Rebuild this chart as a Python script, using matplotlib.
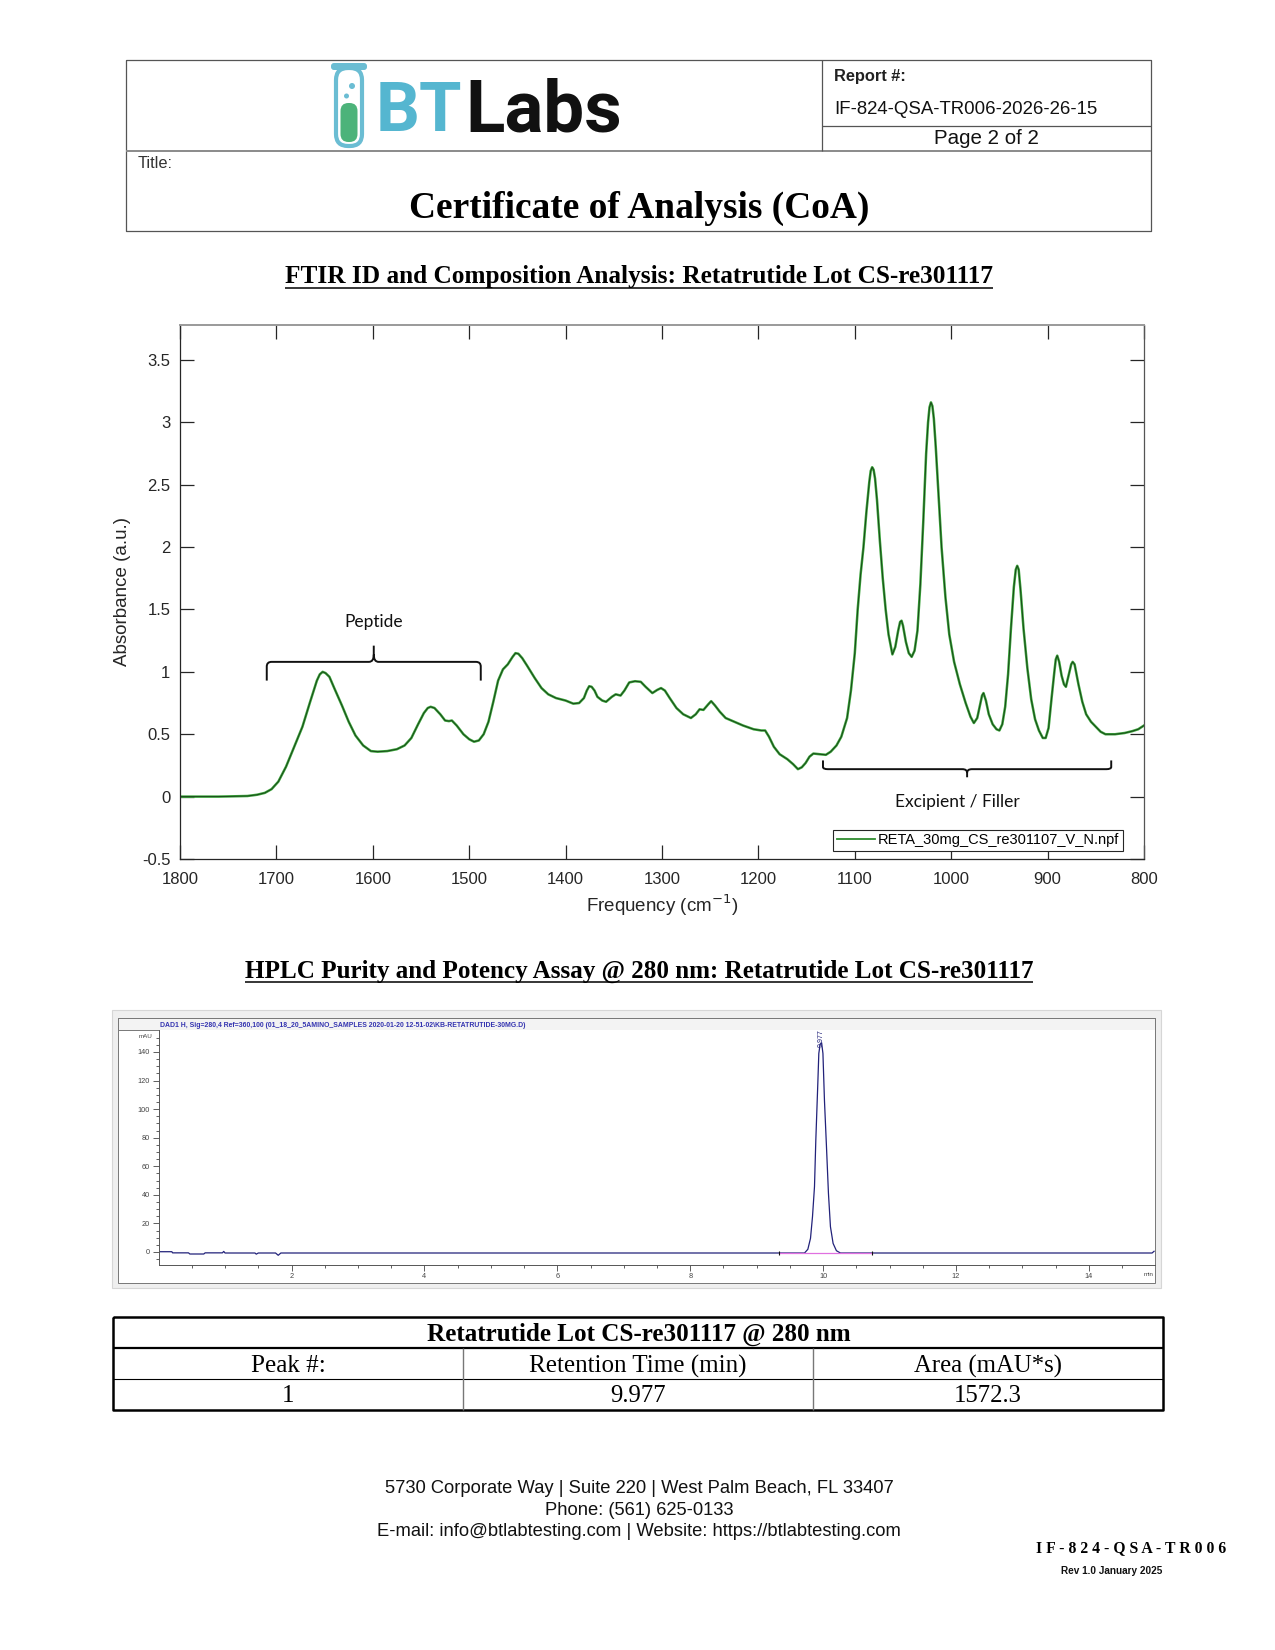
import matplotlib
matplotlib.use("Agg")
import matplotlib.pyplot as plt
from matplotlib.patches import Rectangle, FancyBboxPatch, Circle, PathPatch
from matplotlib.path import Path

plt.rcParams["font.family"] = ["Liberation Sans", "DejaVu Sans"]
plt.rcParams["axes.unicode_minus"] = False

W, H = 1275, 1650
SERIF = "Liberation Serif"
CAL = "Lato"

# ---- FTIR spectrum (cm-1, absorbance) ----
ftir_wn = [1800, 1760, 1730, 1720, 1712, 1705, 1698, 1690, 1682, 1673, 1665, 1658,
           1655, 1652, 1649, 1645, 1640, 1632, 1625, 1618, 1610, 1602, 1595, 1585, 1575,
           1567, 1560, 1553, 1547, 1543, 1540, 1536, 1530, 1525, 1521, 1518, 1513, 1506,
           1500, 1495, 1490, 1485, 1480, 1475, 1470, 1465, 1460, 1455, 1452, 1449, 1445,
           1440, 1432, 1425, 1418, 1410, 1400, 1392, 1386, 1381, 1378, 1375.5, 1373, 1370,
           1367, 1362, 1358, 1352, 1348, 1343, 1339, 1334, 1328, 1322, 1317, 1310,
           1305, 1301, 1297, 1292, 1285, 1278, 1270, 1265, 1261, 1257, 1252, 1249,
           1245, 1240, 1234, 1225, 1216, 1205, 1197, 1193, 1189, 1184, 1178, 1170,
           1164, 1159, 1155, 1151, 1147, 1143, 1136, 1130, 1125, 1119, 1114, 1108,
           1104, 1100, 1097, 1094, 1091, 1088, 1085, 1083.5, 1082, 1080.5, 1079, 1077, 1074, 1071,
           1068, 1065, 1061, 1058, 1055, 1053, 1051.5, 1050, 1047, 1044, 1041, 1038, 1035,
           1032, 1029, 1026, 1024, 1022.5, 1021, 1019.5, 1018, 1016, 1013, 1010, 1006, 1002, 997,
           991, 985, 980, 976.5, 973, 970, 968, 966.5, 964, 961, 957, 953, 950, 947, 944,
           941, 938, 935, 933, 931.5, 930, 928, 925, 921, 917, 913, 909, 905, 902, 899, 896,
           893, 891.5, 890, 888, 885.5, 883, 881, 878, 875.5, 874, 872, 870, 868, 864, 860, 855,
           850, 845, 840, 830, 820, 812, 806, 800]
ftir_abs = [0.00, 0.00, 0.005, 0.015, 0.03, 0.06, 0.12, 0.24, 0.39, 0.56, 0.76, 0.93,
            0.98, 1.00, 0.99, 0.96, 0.87, 0.73, 0.60, 0.49, 0.41, 0.365, 0.36, 0.365, 0.38,
            0.41, 0.47, 0.58, 0.67, 0.71, 0.72, 0.71, 0.66, 0.61, 0.605, 0.61, 0.57, 0.50,
            0.46, 0.44, 0.45, 0.50, 0.60, 0.76, 0.93, 1.02, 1.06, 1.12, 1.15, 1.145, 1.11,
            1.05, 0.95, 0.87, 0.82, 0.79, 0.77, 0.745, 0.75, 0.79, 0.85, 0.885, 0.88, 0.85,
            0.80, 0.77, 0.76, 0.80, 0.82, 0.81, 0.85, 0.915, 0.925, 0.92, 0.88, 0.83,
            0.855, 0.87, 0.85, 0.79, 0.71, 0.66, 0.63, 0.66, 0.70, 0.695, 0.74, 0.765,
            0.73, 0.68, 0.63, 0.60, 0.57, 0.54, 0.53, 0.53, 0.48, 0.40, 0.34, 0.30,
            0.26, 0.22, 0.235, 0.27, 0.32, 0.345, 0.34, 0.335, 0.36, 0.41, 0.48, 0.63,
            0.85, 1.15, 1.50, 1.78, 2.00, 2.28, 2.52, 2.61, 2.64, 2.62, 2.55, 2.38, 2.05, 1.75,
            1.50, 1.30, 1.14, 1.20, 1.33, 1.40, 1.41, 1.37, 1.24, 1.15, 1.12, 1.17, 1.33,
            1.70, 2.20, 2.75, 3.00, 3.12, 3.16, 3.13, 3.03, 2.80, 2.40, 2.00, 1.60, 1.30, 1.08,
            0.90, 0.75, 0.64, 0.59, 0.63, 0.74, 0.81, 0.83, 0.77, 0.66, 0.58, 0.54, 0.53, 0.58, 0.72,
            0.98, 1.35, 1.68, 1.82, 1.85, 1.82, 1.65, 1.35, 1.03, 0.78, 0.62, 0.53, 0.47, 0.47, 0.55, 0.78,
            1.00, 1.10, 1.13, 1.08, 0.97, 0.90, 0.88, 0.98, 1.06, 1.08, 1.06, 0.98, 0.90, 0.76, 0.66, 0.60,
            0.56, 0.52, 0.50, 0.50, 0.51, 0.525, 0.54, 0.57]
ftir_xticks = [1800, 1700, 1600, 1500, 1400, 1300, 1200, 1100, 1000, 900, 800]
ftir_yticks = [-0.5, 0, 0.5, 1, 1.5, 2, 2.5, 3, 3.5]
ftir_ylabels = ["-0.5", "0", "0.5", "1", "1.5", "2", "2.5", "3", "3.5"]
ftir_series = "RETA_30mg_CS_re301107_V_N.npf"

# brackets: (left wn, right wn, bar y, end y, tip y, label, label y)
peptide_brace = (1710, 1488, 1.08, 0.93, 1.21, "Peptide", 1.40)
filler_brace = (1133, 834, 0.22, 0.29, 0.155, "Excipient / Filler", -0.04)

# ---- HPLC chromatogram (min, mAU) ----
hplc_t = [0.0, 0.2, 0.21, 0.45, 0.47, 0.68, 0.7, 0.96, 0.98, 1.0, 1.45, 1.47, 1.5,
          1.76, 1.80, 1.84, 9.3, 9.72, 9.77, 9.81, 9.84, 9.87, 9.89, 9.92, 9.935,
          9.955, 9.977, 9.997, 10.02, 10.05, 10.08, 10.11, 10.15, 10.2, 10.26, 12.2,
          14.95, 14.98]
hplc_mau = [0.2, 0.2, -0.6, -0.6, -1.4, -1.4, -0.6, -0.6, 0.4, -0.7, -0.7, -1.5, -0.7,
            -0.7, -2.3, -0.7, -0.7, -0.7, 1.9, 9.6, 24.8, 45.8, 78.5, 118, 139,
            145.5, 146.5, 139, 106, 74, 41, 17.7, 6, 0.9, -0.7, -0.7, -0.7, 0.5]
hplc_peak_rt = 9.977
hplc_base_t = [9.334, 10.74]
hplc_base_y = [-0.7, -0.7]
hplc_xticks = [2, 4, 6, 8, 10, 12, 14]
hplc_yticks = [0, 20, 40, 60, 80, 100, 120, 140]
hplc_title = ("DAD1 H, Sig=280,4 Ref=360,100 (01_18_20_5AMINO_SAMPLES 2020-01-20 "
              "12-51-02\\KB-RETATRUTIDE-30MG.D)")

# ---- result table ----
table_title = "Retatrutide Lot CS-re301117 @ 280 nm"
table_cols = ["Peak #:", "Retention Time (min)", "Area (mAU*s)"]
table_row = ["1", "9.977", "1572.3"]

footer_lines = ["5730 Corporate Way | Suite 220 | West Palm Beach, FL 33407",
                "Phone: (561) 625-0133",
                "E-mail: info@btlabtesting.com | Website: https://btlabtesting.com"]

fig = plt.figure(figsize=(W / 100, H / 100), dpi=100)
page = fig.add_axes([0, 0, 1, 1])
page.set_xlim(0, W)
page.set_ylim(H, 0)
page.axis("off")
rend = fig.canvas.get_renderer()


def px_axes(left, top, right, bottom):
    return fig.add_axes([left / W, 1 - bottom / H, (right - left) / W, (bottom - top) / H])


def put(x, y, s, width=None, size=10, **kw):
    kw.setdefault("ha", "center")
    kw.setdefault("va", "baseline")
    t = page.text(x, y, s, fontsize=size, **kw)
    if width:
        w = t.get_window_extent(rend).width
        t.set_fontsize(size * width / w)
    return t


def line(xs, ys, color="#444444", lw=1.0):
    page.plot(xs, ys, color=color, lw=lw, solid_capstyle="butt", clip_on=False)


def underline(t, y, lw=1.1):
    bb = t.get_window_extent(rend)
    line([bb.x0, bb.x1], [y, y], color="black", lw=lw)


# ---------------- header block ----------------
line([126, 1151, 1151, 126, 126], [60, 60, 231, 231, 60], color="#555555", lw=0.9)
line([126, 1151], [151, 151], color="#8a8a8a", lw=1.4)
line([822, 822], [60, 151], color="#555555", lw=0.9)
line([822, 1151], [126, 126], color="#555555", lw=0.9)
put(834, 81, "Report #:", width=72, ha="left", fontweight="bold", color="#222222")
put(834, 114, "IF-824-QSA-TR006-2026-26-15", width=264, ha="left", color="#111111")
put(986, 144, "Page 2 of 2", width=106, color="#111111")
put(138, 168, "Title:", width=35, ha="left", color="#333333")
put(639, 218, "Certificate of Analysis (CoA)", width=462, family=SERIF, fontweight="bold")

# logo: test tube + "BT" "Labs"
tube = "#6bbdd3"
page.add_patch(FancyBboxPatch((336, 68), 26, 78, boxstyle="round,pad=0,rounding_size=12",
                              fc="none", ec=tube, lw=3))
page.add_patch(FancyBboxPatch((340.5, 103), 17, 39, boxstyle="round,pad=0,rounding_size=8",
                              fc="#4cb37a", ec="none"))
page.add_patch(FancyBboxPatch((331, 63), 36, 7, boxstyle="round,pad=0,rounding_size=3",
                              fc=tube, ec="none"))
page.add_patch(Circle((352, 86), 3, fc=tube, ec="none"))
page.add_patch(Circle((346.5, 96), 2.5, fc=tube, ec="none"))
put(376, 131, "BT", width=86, ha="left", family="Roboto", fontweight="bold", color="#55b6d0")
put(465, 131, "Labs", width=157, ha="left", family="Roboto", fontweight="bold", color="#111111")

# ---------------- FTIR ----------------
t = put(639, 283, "FTIR ID and Composition Analysis: Retatrutide Lot CS-re301117",
        width=706, family=SERIF, fontweight="bold")
underline(t, 287.5)

ax = px_axes(180, 325, 1144, 859)
ax.plot(ftir_wn, ftir_abs, color="#3aa33a", lw=1.8, solid_joinstyle="round")
ax.plot(ftir_wn, ftir_abs, color="#163f16", lw=0.6, solid_joinstyle="round", label=ftir_series)
ax.set_xlim(1800, 800)
ax.set_ylim(-0.5, 3.78)
ax.set_xticks(ftir_xticks)
ax.set_yticks(ftir_yticks)
ax.set_yticklabels(ftir_ylabels)
ax.tick_params(direction="in", length=10, width=0.9, colors="#262626", labelsize=12,
               top=True, right=True, pad=7)
ax.tick_params(axis="x", pad=9)
for side, c, lw in (("left", "#262626", 0.9), ("bottom", "#262626", 0.9),
                    ("top", "#9a9a9a", 1.4), ("right", "#555555", 0.9)):
    ax.spines[side].set_color(c)
    ax.spines[side].set_linewidth(lw)
ax.set_ylabel("Absorbance (a.u.)", fontsize=13.5, color="#262626", labelpad=8)
ax.set_xlabel("Frequency (cm$^{-1}$)", fontsize=13.5, color="#262626", labelpad=4)
leg = ax.legend(loc="lower right", bbox_to_anchor=(0.978, 0.015), borderaxespad=0,
                fontsize=10.5, fancybox=False, edgecolor="#262626", handlelength=2.6,
                handletextpad=0.2, borderpad=0.25, framealpha=1)
leg.get_frame().set_linewidth(0.8)
leg.legend_handles[0].set_color("#2e8b2e")
leg.legend_handles[0].set_linewidth(1.3)


def brace(ax, xl, xr, yb, ye, yt, label, ly):
    xt = (xl + xr) / 2
    d = 1 if xr > xl else -1
    rx = 5
    ry = (yb - ye) * 0.25
    tip = (yt - yb) * 0.45
    verts = [(xl, ye), (xl, yb - ry), (xl, yb), (xl + d * rx, yb),
             (xt - d * rx, yb), (xt, yb), (xt, yb + tip), (xt, yt),
             (xt, yb + tip), (xt, yb), (xt + d * rx, yb),
             (xr - d * rx, yb), (xr, yb), (xr, yb - ry), (xr, ye)]
    codes = [Path.MOVETO, Path.LINETO, Path.CURVE3, Path.CURVE3,
             Path.LINETO, Path.CURVE3, Path.CURVE3, Path.LINETO,
             Path.MOVETO, Path.CURVE3, Path.CURVE3,
             Path.LINETO, Path.CURVE3, Path.CURVE3, Path.LINETO]
    ax.add_patch(PathPatch(Path(verts, codes), fc="none", ec="#111111", lw=1.4))
    ax.text(xt + (10 if ly < 0 else 0), ly, label, ha="center", va="center",
            fontsize=12.5, family=CAL, color="#111111")


brace(ax, *peptide_brace)
brace(ax, *filler_brace)

# ---------------- HPLC ----------------
t = put(639, 978, "HPLC Purity and Potency Assay @ 280 nm: Retatrutide Lot CS-re301117",
        width=791, family=SERIF, fontweight="bold")
underline(t, 981.5)

page.add_patch(Rectangle((112, 1010), 1049, 278, fc="#efefef", ec="#d6d6d6", lw=0.8))
page.add_patch(Rectangle((118, 1018), 1037, 265, fc="white", ec="#777777", lw=0.7))
page.add_patch(Rectangle((118, 1018), 1037, 12, fc="#f3f3f3", ec="#777777", lw=0.7))
put(160, 1027, hplc_title, width=365, ha="left", fontweight="bold", color="#3434b0")

hx = px_axes(158.6, 1030, 1155.4, 1265)
hx.plot(hplc_t, hplc_mau, color="#22227a", lw=0.9)
hx.plot(hplc_base_t, hplc_base_y, color="#e070e0", lw=0.9)
hx.plot(hplc_base_t, hplc_base_y, "|", color="#111111", ms=3.5, mew=0.8)
hx.text(hplc_peak_rt, 149.5, f"{hplc_peak_rt:.3f}", rotation=90, ha="center",
        va="center", fontsize=5, color="#22227a")
hx.set_xlim(0, 15)
hx.set_ylim(-9.1, 155.4)
hx.set_xticks(hplc_xticks)
hx.set_yticks(hplc_yticks)
hx.set_xticks([v / 2 for v in range(1, 30)], minor=True)
hx.set_yticks(list(range(-5, 155, 5)), minor=True)
hx.tick_params(which="both", direction="out", colors="#444444", labelsize=5.3, width=0.6)
hx.tick_params(which="major", length=4, pad=2)
hx.tick_params(which="minor", length=2)
for side in ("top", "right"):
    hx.spines[side].set_visible(False)
for side in ("left", "bottom"):
    hx.spines[side].set_color("#555555")
    hx.spines[side].set_linewidth(0.7)
put(152, 1038, "mAU", size=4.5, ha="right", color="#444444")
put(1149, 1276, "min", size=4.5, color="#444444")

# ---------------- table ----------------
tl, tr, ttop, tbot = 113, 1163, 1317, 1410
c1, c2 = tl + (tr - tl) / 3, tl + 2 * (tr - tl) / 3
line([tl, tr, tr, tl, tl], [ttop, ttop, tbot, tbot, ttop], color="black", lw=1.8)
line([tl, tr], [1348, 1348], color="black", lw=1.6)
line([tl, tr], [1379, 1379], color="black", lw=0.8)
line([c1, c1], [1348, tbot], color="#777777", lw=1.0)
line([c2, c2], [1348, tbot], color="#777777", lw=1.0)
put(639, 1340.5, table_title, width=425, family=SERIF, fontweight="bold")
col_w = [75, 217, 148]
centers = [(tl + c1) / 2, (c1 + c2) / 2, (c2 + tr) / 2]
for cx, s, w in zip(centers, table_cols, col_w):
    put(cx, 1372.5, s, width=w, family=SERIF)
ref = put(centers[0], 1402.5, table_row[0], family=SERIF)
ref.set_fontsize(page.texts[-2].get_fontsize())
for cx, s in zip(centers[1:], table_row[1:]):
    put(cx, 1402.5, s, size=ref.get_fontsize(), family=SERIF)

# ---------------- footer ----------------
put(639, 1493, footer_lines[0], width=510, color="#111111")
put(639, 1515, footer_lines[1], width=190, color="#111111")
put(639, 1536, footer_lines[2], width=523, color="#111111")
put(1131, 1552, " ".join("IF-824-QSA-TR006"), width=190, family=SERIF, fontweight="bold")
put(1112, 1574, "Rev 1.0 January 2025", width=101, fontweight="bold", color="#111111")

fig.savefig("out.png", dpi=100)
